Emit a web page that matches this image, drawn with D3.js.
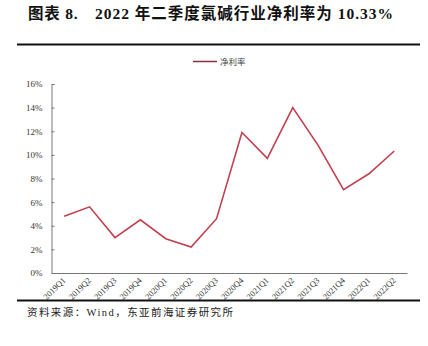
<!DOCTYPE html>
<html>
<head>
<meta charset="utf-8">
<script src="https://cdn.jsdelivr.net/npm/d3@7"></script>
<style>
  html, body { margin: 0; padding: 0; background: #fff; }
  svg { display: block; }
</style>
</head>
<body>
<script>
// Quarterly net margin of the chlor-alkali industry (%)
const quarters = ["2019Q1","2019Q2","2019Q3","2019Q4","2020Q1","2020Q2","2020Q3","2020Q4",
                  "2021Q1","2021Q2","2021Q3","2021Q4","2022Q1","2022Q2"];
const netMargin = [4.8, 5.6, 3.0, 4.5, 2.9, 2.2, 4.6, 11.9, 9.7, 14.0, 10.8, 7.05, 8.4, 10.33];
const yTicks = [0, 2, 4, 6, 8, 10, 12, 14, 16];
const seriesName = "净利率";
const titleLabel = "图表 8.";
const titleText = "2022 年二季度氯碱行业净利率为 10.33%";
const sourceText = "资料来源：Wind，东亚前海证券研究所";

const W = 428, H = 346;
const serif = "'Liberation Serif', 'Noto Sans CJK SC', serif";
const lineColor = "#c2404f";

const svg = d3.select("body").append("svg").attr("width", W).attr("height", H);

// Title: figure number, then the headline
svg.append("text")
  .attr("x", 28).attr("y", 19)
  .attr("font-family", serif)
  .attr("font-weight", "bold")
  .attr("font-size", 15.5)
  .attr("letter-spacing", 0.8)
  .attr("fill", "#111")
  .text(titleLabel);
svg.append("text")
  .attr("x", 95).attr("y", 19)
  .attr("font-family", serif)
  .attr("font-weight", "bold")
  .attr("font-size", 15.5)
  .attr("fill", "#111")
  .attr("textLength", 298)
  .attr("lengthAdjust", "spacing")
  .text(titleText);

// Rules above and below the chart
svg.append("line").attr("x1", 17).attr("x2", 420).attr("y1", 44.5).attr("y2", 44.5)
  .attr("stroke", "#111").attr("stroke-width", 2);
svg.append("line").attr("x1", 17).attr("x2", 420).attr("y1", 300.5).attr("y2", 300.5)
  .attr("stroke", "#111").attr("stroke-width", 2);

// Source note
svg.append("text")
  .attr("x", 27).attr("y", 315.5)
  .attr("font-family", serif)
  .attr("font-size", 10.5)
  .attr("fill", "#222")
  .attr("textLength", 206)
  .attr("lengthAdjust", "spacing")
  .text(sourceText);

// Scales
const x = d3.scaleBand().domain(quarters).range([51.5, 407]);
const y = d3.scaleLinear().domain([0, 16]).range([273, 84]);

// Y axis
const yAxis = svg.append("g").attr("transform", "translate(51.5,0)")
  .call(d3.axisLeft(y).tickValues(yTicks).tickFormat(d => d + "%").tickSize(-3).tickPadding(9));
yAxis.select(".domain").attr("stroke", "#777");
yAxis.selectAll(".tick line").attr("stroke", "#777");
yAxis.selectAll(".tick text")
  .attr("font-family", serif).attr("font-size", 9).attr("fill", "#333");

// X axis
const xAxis = svg.append("g").attr("transform", "translate(0,273)")
  .call(d3.axisBottom(x).tickSize(0).tickPadding(0).tickSizeOuter(0));
xAxis.select(".domain").attr("stroke", "#777");
xAxis.selectAll(".tick text")
  .attr("font-family", serif).attr("font-size", 8.5).attr("fill", "#333")
  .attr("text-anchor", "end")
  .attr("dy", 0)
  .attr("transform", "translate(2,8) rotate(-45)");

// Line
const line = d3.line()
  .x((d, i) => x(quarters[i]) + x.bandwidth() / 2)
  .y(d => y(d));
svg.append("path")
  .datum(netMargin)
  .attr("d", line)
  .attr("fill", "none")
  .attr("stroke", lineColor)
  .attr("stroke-width", 1.6)
  .attr("stroke-linejoin", "miter");

// Legend
svg.append("line").attr("x1", 193).attr("x2", 217).attr("y1", 61.5).attr("y2", 61.5)
  .attr("stroke", "#8e3040").attr("stroke-width", 1.5);
svg.append("text")
  .attr("x", 220).attr("y", 64.5)
  .attr("font-family", serif)
  .attr("font-size", 8.5)
  .attr("fill", "#444")
  .text(seriesName);
</script>
</body>
</html>
